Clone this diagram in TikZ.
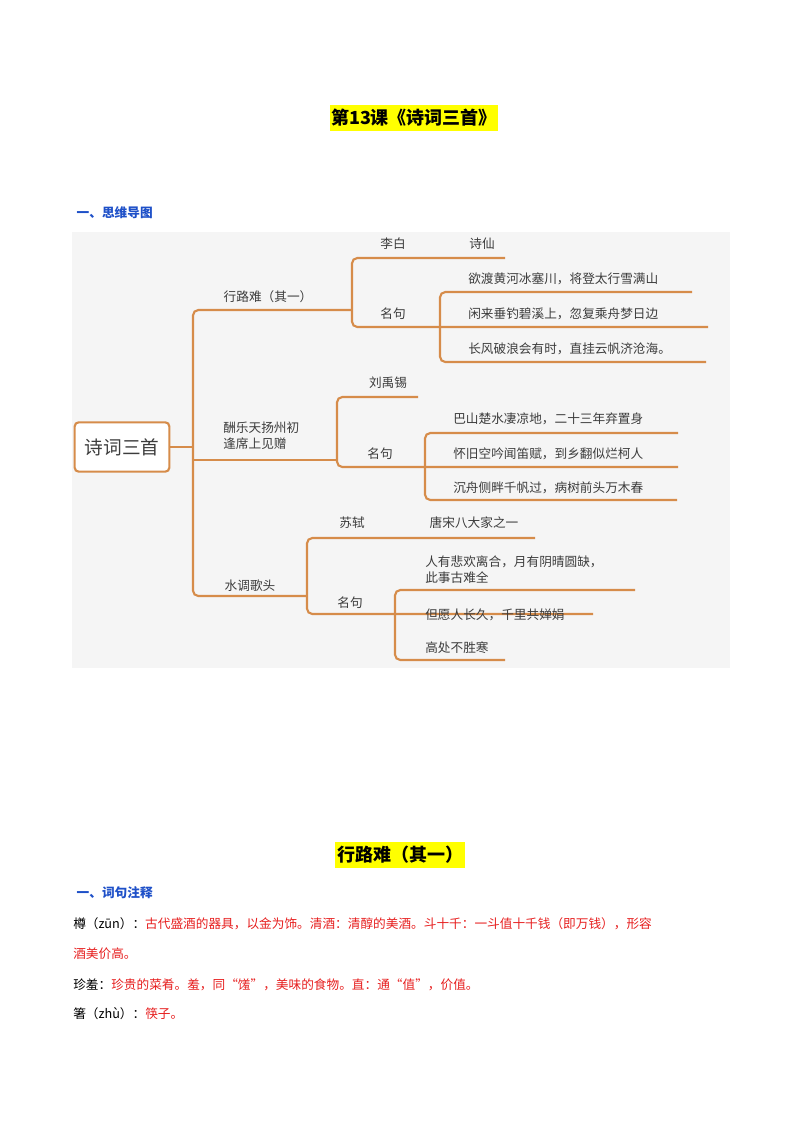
\documentclass[tikz,border=0pt]{standalone}
\usepackage{fontspec}
\usepackage{xcolor}
\setmainfont{Noto Sans CJK SC}
\definecolor{branch}{RGB}{214,140,74}
\definecolor{mapbg}{RGB}{245,245,245}
\definecolor{hilite}{RGB}{255,255,0}
\definecolor{headblue}{RGB}{30,80,200}
\definecolor{notered}{RGB}{230,30,30}
\definecolor{maptext}{RGB}{60,60,60}

\begin{document}
\begin{tikzpicture}[x=0.75pt,y=-0.75pt,
  leaf/.style={text=maptext,font=\fontsize{9.5}{12}\selectfont,inner sep=0.75pt},
  arm/.style={draw=branch,line width=1.6pt,rounded corners=4pt},
  note/.style={anchor=west,inner sep=0.75pt,font=\fontsize{9.5}{12}\selectfont}]
\useasboundingbox (0,0) rectangle (800,1132);

% Title
\fill[hilite] (330,105) rectangle (498,131);
\node[font=\bfseries\fontsize{13.5}{16}\selectfont] (title) at (414,118) {第13课《诗词三首》};
\node[anchor=west,text=headblue,font=\bfseries\fontsize{9.5}{12}\selectfont] (head1) at (72,213) {一、思维导图};

% Mind map background
\fill[mapbg] (72,232) rectangle (730,668);

% Trunk lines
\draw[arm] (170,447) -- (193,447);
\draw[arm] (352,310) -- (193,310) -- (193,596) -- (307,596);
\draw[arm] (193,460) -- (337,460);
% Branch 1
\draw[arm] (505,258) -- (352,258) -- (352,327) -- (708,327);
\draw[arm] (692,292) -- (440,292) -- (440,362) -- (706,362);
% Branch 2
\draw[arm] (418,397) -- (337,397) -- (337,467) -- (678,467);
\draw[arm] (678,433) -- (425,433) -- (425,500) -- (677,500);
% Branch 3
\draw[arm] (535,538) -- (307,538) -- (307,614) -- (593,614);
\draw[arm] (635,590) -- (395,590) -- (395,660) -- (505,660);

% Root
\node[draw=branch,line width=1.6pt,rounded corners=3pt,fill=white,minimum width=71pt,minimum height=37pt,
  font=\fontsize{14}{16}\selectfont,text=maptext] (root) at (122,447) {诗词三首};

\node[leaf] (xln) at (268,297) {行路难（其一）};
\node[leaf] (lb) at (393,244) {李白};
\node[leaf] (sx) at (482,244) {诗仙};
\node[leaf] (mj1) at (393,314) {名句};
\node[leaf,anchor=west] (l1a) at (467,279) {欲渡黄河冰塞川，将登太行雪满山};
\node[leaf,anchor=west] (l1b) at (467,314) {闲来垂钓碧溪上，忽复乘舟梦日边};
\node[leaf,anchor=west] (l1c) at (467,349) {长风破浪会有时，直挂云帆济沧海。};

\node[leaf,align=left,anchor=west] (cyt) at (222,436) {酬乐天扬州初\\逢席上见赠};
\node[leaf] (lyx) at (388,383) {刘禹锡};
\node[leaf] (mj2) at (380,454) {名句};
\node[leaf,anchor=west] (l2a) at (452,419) {巴山楚水凄凉地，二十三年弃置身};
\node[leaf,anchor=west] (l2b) at (452,454) {怀旧空吟闻笛赋，到乡翻似烂柯人};
\node[leaf,anchor=west] (l2c) at (452,488) {沉舟侧畔千帆过，病树前头万木春};

\node[leaf] (sdgt) at (250,586) {水调歌头};
\node[leaf] (ss) at (352,523) {苏轼};
\node[leaf] (tsbd) at (474,523) {唐宋八大家之一};
\node[leaf] (mj3) at (350,603) {名句};
\node[leaf,align=left,anchor=west] (l3a) at (424,570) {人有悲欢离合，月有阴晴圆缺，\\此事古难全};
\node[leaf,anchor=west] (l3b) at (424,615) {但愿人长久，千里共婵娟};
\node[leaf,anchor=west] (l3c) at (424,648) {高处不胜寒};

% Second part
\fill[hilite] (335,842) rectangle (465,868);
\node[font=\bfseries\fontsize{13.5}{16}\selectfont] (title2) at (400,855) {行路难（其一）};
\node[anchor=west,text=headblue,font=\bfseries\fontsize{9.5}{12}\selectfont] (head2) at (72,893) {一、词句注释};
\node[note] (n1) at (72,924) {樽（zūn）：\textcolor{notered}{古代盛酒的器具，以金为饰。清酒：清醇的美酒。斗十千：一斗值十千钱（即万钱），形容}};
\node[note,text=notered] (n1b) at (72,954) {酒美价高。};
\node[note] (n2) at (72,985) {珍羞：\textcolor{notered}{珍贵的菜肴。羞，同“馐”，美味的食物。直：通“值”，价值。}};
\node[note] (n3) at (72,1014) {箸（zhù）：\textcolor{notered}{筷子。}};
\end{tikzpicture}
\end{document}
